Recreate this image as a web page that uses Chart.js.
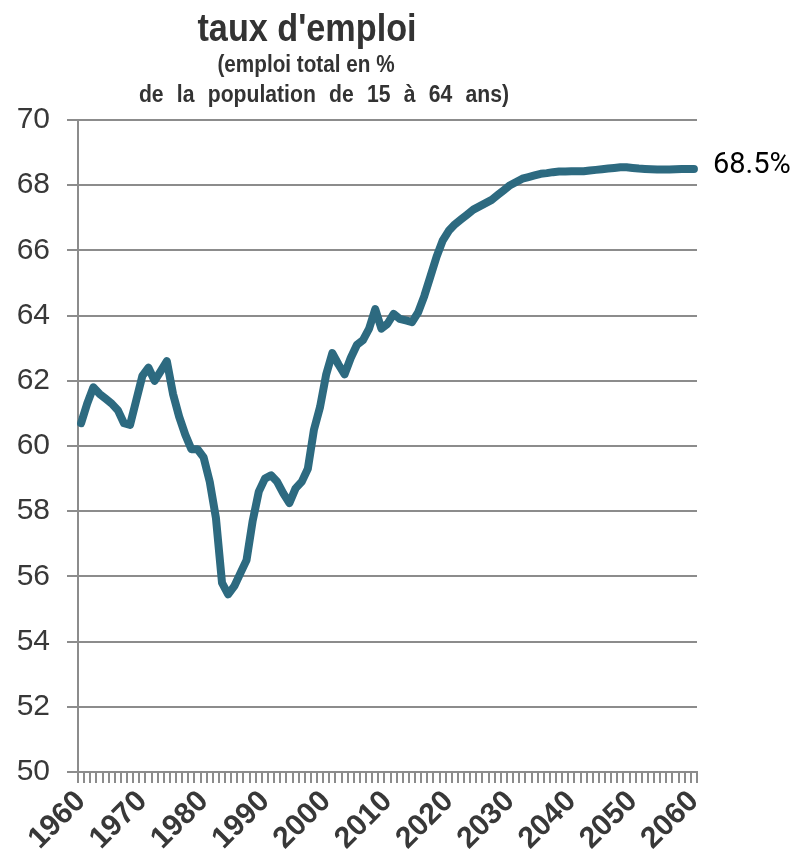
<!DOCTYPE html>
<html>
<head>
<meta charset="utf-8">
<script src="https://cdn.jsdelivr.net/npm/chart.js@4.4.0/dist/chart.umd.min.js"></script>
<style>
  html, body { margin: 0; padding: 0; background: #fff; }
</style>
</head>
<body>
<canvas id="tauxChart" width="798" height="861"></canvas>
<script>
// années 1960 -> 2060 (une catégorie par an)
const annees = Array.from({ length: 101 }, (_, i) => String(1960 + i));

// taux d'emploi (en %)
const tauxEmploi = [
  60.7, 61.3, 61.8, 61.6, 61.45, 61.3, 61.1, 60.7, 60.65, 61.4,     // 1960-1969
  62.15, 62.4, 62.0, 62.3, 62.6, 61.6, 60.9, 60.35, 59.9, 59.9,     // 1970-1979
  59.65, 58.9, 57.8, 55.8, 55.45, 55.7, 56.1, 56.5, 57.7, 58.6,     // 1980-1989
  59.0, 59.1, 58.9, 58.55, 58.25, 58.7, 58.9, 59.3, 60.5, 61.2,     // 1990-1999
  62.2, 62.85, 62.5, 62.2, 62.7, 63.1, 63.25, 63.6, 64.2, 63.6,     // 2000-2009
  63.75, 64.05, 63.9, 63.85, 63.8, 64.1, 64.6, 65.2, 65.8, 66.3,    // 2010-2019
  66.6, 66.8, 66.95, 67.1, 67.25, 67.35, 67.45, 67.55, 67.7, 67.85, // 2020-2029
  68.0, 68.1, 68.2, 68.25, 68.3, 68.35, 68.37, 68.4, 68.42, 68.42,  // 2030-2039
  68.43, 68.43, 68.43, 68.45, 68.47, 68.49, 68.51, 68.53, 68.55, 68.55, // 2040-2049
  68.53, 68.51, 68.5, 68.49, 68.48, 68.48, 68.48, 68.49, 68.5, 68.5, // 2050-2059
  68.5                                                              // 2060
];

// graduations
const etiquettesX = ["1960", "1970", "1980", "1990", "2000", "2010", "2020", "2030", "2040", "2050", "2060"];
const graduationsY = [50, 52, 54, 56, 58, 60, 62, 64, 66, 68, 70];

const titre = "taux d'emploi";
const sousTitre = ["(emploi total en %", "de la population de 15 à 64 ans)"];

const gris = "#8c8c8c";
const texte = "#383838";

// texte centré, un peu resserré horizontalement (police étroite de l'original)
function texteSerre(ctx, str, x, y, sx) {
  ctx.save();
  ctx.translate(x, y);
  ctx.scale(sx, 1);
  ctx.fillText(str, 0, 0);
  ctx.restore();
}

// titre dessiné à la main (centré à gauche du graphique comme l'original)
const titrePlugin = {
  id: "titreGraphique",
  afterDraw(chart) {
    const ctx = chart.ctx;
    ctx.save();
    ctx.fillStyle = "#333333";
    ctx.textAlign = "center";
    ctx.textBaseline = "alphabetic";
    ctx.font = "bold 38px 'Liberation Sans'";
    texteSerre(ctx, titre, 307, 41, 0.9);
    ctx.font = "bold 23px 'Liberation Sans'";
    texteSerre(ctx, sousTitre[0], 306, 72, 0.9);
    ctx.wordSpacing = "8px";
    texteSerre(ctx, sousTitre[1], 324, 102, 0.92);
    ctx.restore();
  }
};

// valeur finale affichée à droite de la courbe
const valeurFinalePlugin = {
  id: "valeurFinale",
  afterDatasetsDraw(chart) {
    const meta = chart.getDatasetMeta(0);
    const dernier = meta.data[meta.data.length - 1];
    const valeur = chart.data.datasets[0].data[meta.data.length - 1];
    const ctx = chart.ctx;
    ctx.save();
    ctx.font = "29px Roboto";
    ctx.fillStyle = "#000";
    ctx.textAlign = "left";
    ctx.textBaseline = "alphabetic";
    ctx.fillText(valeur.toFixed(1) + "%", dernier.x + 19, dernier.y + 4);
    ctx.restore();
  }
};

function initialiserGraphique() {
  const ctx = document.getElementById("tauxChart");
  new Chart(ctx.getContext("2d"), {
    type: "line",
    data: {
      labels: annees,
      datasets: [{
        label: "taux d'emploi",
        data: tauxEmploi,
        borderColor: "#2d6a80",
        backgroundColor: "#2d6a80",
        borderWidth: 8,
        pointRadius: 0,
        tension: 0,
        borderJoinStyle: "round",
        borderCapStyle: "round",
        fill: false
      }]
    },
    options: {
      responsive: false,
      animation: false,
      layout: { padding: { top: 120, right: 101, left: 0, bottom: 0 } },
      plugins: {
        legend: { display: false },
        tooltip: { enabled: false },
        title: { display: false }
      },
      scales: {
        x: {
          type: "category",
          offset: true,
          grid: {
            offset: true,
            drawOnChartArea: false,
            drawTicks: true,
            tickLength: 11,
            color: gris,
            lineWidth: 2
          },
          border: { display: true, color: gris, width: 2 },
          ticks: {
            autoSkip: false,
            maxRotation: 45,
            minRotation: 45,
            padding: 1,
            color: texte,
            font: { family: "'Liberation Sans'", size: 30, weight: "bold" },
            callback: function (val) {
              const l = this.getLabelForValue(val);
              return etiquettesX.includes(l) ? l : "";
            }
          },
          afterFit: (scale) => { scale.height = 89; }
        },
        y: {
          min: graduationsY[0],
          max: graduationsY[graduationsY.length - 1],
          grid: {
            drawOnChartArea: true,
            drawTicks: true,
            tickLength: 11,
            color: gris,
            lineWidth: 2
          },
          border: { display: true, color: gris, width: 2 },
          ticks: {
            stepSize: graduationsY[1] - graduationsY[0],
            padding: 17,
            color: texte,
            font: { family: "'Liberation Sans'", size: 30 }
          },
          afterFit: (scale) => { scale.width = 78; }
        }
      }
    },
    plugins: [titrePlugin, valeurFinalePlugin]
  });
}

initialiserGraphique();
</script>
</body>
</html>
